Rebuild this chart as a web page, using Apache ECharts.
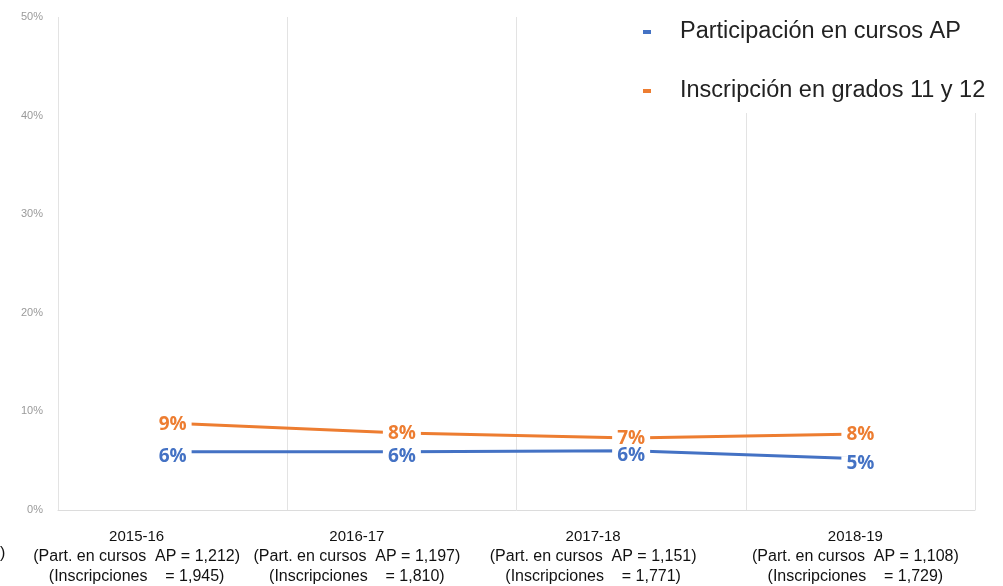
<html>
<head>
    <meta charset="utf-8">
    <title>Participación en cursos AP</title>
    <script src="https://cdn.jsdelivr.net/npm/echarts@6/dist/echarts.min.js"></script>
    <style>
        body { margin: 0; background: #fff; }
        #chart { width: 1003px; height: 586px; }
    </style>
</head>
<body>
<div id="chart"></div>
<script>
    // años escolares y totales que se muestran bajo el eje
    var years = ['2015-16', '2016-17', '2017-18', '2018-19'];
    var apCounts = ['1,212', '1,197', '1,151', '1,108'];
    var enrollCounts = ['1,945', '1,810', '1,771', '1,729'];
    // desplazamiento (px) de cada etiqueta del eje, como en el original
    var labelShift = [72, 90, 76, 10];

    // porcentajes
    var participacion = [5.9, 5.9, 6.0, 5.2];
    var inscripcion = [8.8, 7.8, 7.3, 7.7];

    var seriesNames = ['Participación en cursos AP', 'Inscripción en grados 11 y 12'];
    var colors = ['#4472C4', '#ED7D31'];
    var labelNudge = [5, 1];

    var xData = [];
    for (var i = 0; i < years.length; i++) {
        xData.push({
            value: '{y|' + years[i] + '}\n{d|(Part. en cursos  AP = ' + apCounts[i] + ')}\n{d|(Inscripciones    = ' + enrollCounts[i] + ')}',
            textStyle: { padding: [0, labelShift[i], 0, 0] }
        });
    }

    function makeSeries(idx, values) {
        return {
            name: seriesNames[idx],
            type: 'line',
            data: values,
            color: colors[idx],
            symbol: 'circle',
            symbolSize: 2,
            itemStyle: { color: 'rgba(255,255,255,0)', borderWidth: 0 },
            lineStyle: { width: 3, color: colors[idx] },
            label: {
                show: true,
                position: 'inside',
                offset: [0, labelNudge[idx]],
                formatter: function (p) { return Math.round(p.value) + '%'; },
                color: colors[idx],
                fontFamily: 'Open Sans',
                fontWeight: 'bold',
                fontSize: 19,
                lineHeight: 15,
                backgroundColor: '#fff',
                padding: [0, 5]
            }
        };
    }

    var chart = echarts.init(document.getElementById('chart'));

    var option = {
        animation: false,
        grid: { left: 58, right: 28, top: 17, bottom: 76 },
        legend: {
            orient: 'vertical',
            left: 638,
            top: 10,
            padding: [10, 20, 10, 5],
            backgroundColor: '#fff',
            itemGap: 35,
            itemWidth: 8,
            itemHeight: 4,
            icon: 'rect',
            data: [
                { name: seriesNames[0], itemStyle: { color: colors[0] } },
                { name: seriesNames[1], itemStyle: { color: colors[1] } }
            ],
            textStyle: {
                fontFamily: 'Liberation Sans',
                fontSize: 23.5,
                color: '#222',
                padding: [0, 0, 0, 24]
            }
        },
        xAxis: {
            type: 'category',
            boundaryGap: true,
            data: xData,
            axisLine: { lineStyle: { color: '#dcdcdc', width: 1 } },
            axisTick: { show: false },
            splitLine: { show: true, lineStyle: { color: '#e3e3e3', width: 1 } },
            axisLabel: {
                interval: 0,
                margin: 17,
                fontFamily: 'Liberation Sans',
                color: '#111',
                rich: {
                    y: { fontFamily: 'Liberation Sans', fontSize: 15, lineHeight: 20, color: '#111' },
                    d: { fontFamily: 'Liberation Sans', fontSize: 16, lineHeight: 20, color: '#111' }
                }
            }
        },
        yAxis: {
            type: 'value',
            min: 0,
            max: 50,
            interval: 10,
            axisLine: { show: false },
            axisTick: { show: false },
            splitLine: { show: false },
            axisLabel: {
                margin: 15,
                fontFamily: 'Liberation Sans',
                fontSize: 11,
                color: '#9a9a9a',
                formatter: '{value}%'
            }
        },
        series: [makeSeries(0, participacion), makeSeries(1, inscripcion)],
        graphic: [{
            type: 'text',
            left: 0,
            top: 546,
            style: { text: ')', font: '16px "Liberation Sans"', fill: '#111' }
        }]
    };

    chart.setOption(option);
</script>
</body>
</html>
